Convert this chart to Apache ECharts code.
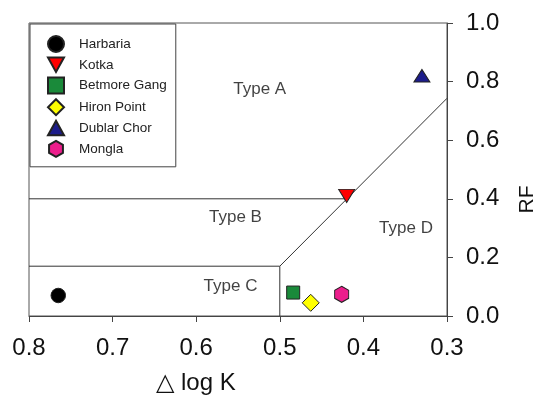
<!DOCTYPE html>
<html><head><meta charset="utf-8">
<script src="https://cdn.jsdelivr.net/npm/echarts@6/dist/echarts.min.js"></script>
<style>html,body{margin:0;padding:0;background:#fff}#c{width:539px;height:395px}</style>
</head><body><div id="c"></div>
<script>
const siteNames = ['Harbaria','Kotka','Betmore Gang','Hiron Point','Dublar Chor','Mongla'];
const dLogK = [0.765, 0.42, 0.484, 0.463, 0.330, 0.426];
const rfValues = [0.07, 0.41, 0.08, 0.045, 0.82, 0.074];
const xTicks = [0.3, 0.4, 0.5, 0.6, 0.7, 0.8];
const yTicks = [0.0, 0.2, 0.4, 0.6, 0.8, 1.0];
// boundary lines [x, y]
const lineAB = [[0.8, 0.4], [0.42, 0.4]];
const lineBC = [[0.8, 0.17], [0.5, 0.17]];
const lineCD = [[0.5, 0.0], [0.5, 0.17]];
const lineDiag = [[0.5, 0.17], [0.3, 0.743]];
const typeLabels = [['Type A', 0.524, 0.775], ['Type B', 0.553, 0.338], ['Type C', 0.559, 0.10], ['Type D', 0.349, 0.30]];

const colors = ['#000000', '#ff0000', '#1a8a3a', '#ffff00', '#1c1c8a', '#ec1e8c'];
const hex = 'path://M50,0 L93.3,25 L93.3,75 L50,100 L6.7,75 L6.7,25 Z';
const downTri = 'path://M0,0 L100,0 L50,90 Z';
const upTri = 'path://M50,0 L100,90 L0,90 Z';
const symbols = ['circle', downTri, 'rect', 'diamond', upTri, hex];
const sizes = [[14.5,14.5], [16,13], [13,13], [17,17], [16,12.5], [14,16]];

const FONT = 'Liberation Sans, Arial, sans-serif';
const series = [];
siteNames.forEach((n, i) => {
  series.push({
    name: n, type: 'scatter', symbol: symbols[i], symbolSize: sizes[i],
    itemStyle: {color: colors[i], borderColor: '#222', borderWidth: 1, opacity: 1},
    data: [[dLogK[i], rfValues[i]]], z: 5
  });
});
[lineAB, lineBC, lineCD, lineDiag].forEach(l => {
  series.push({type: 'line', data: l, symbol: 'none', silent: true,
    lineStyle: {color: '#333', width: 1}, z: 3});
});
series.push({
  type: 'scatter', symbolSize: 0, silent: true,
  data: typeLabels.map(t => ({value: [t[1], t[2]], label: {show: true, formatter: t[0]}})),
  label: {show: true, position: 'inside', color: '#111', fontSize: 17, fontFamily: FONT}
});

const chart = echarts.init(document.getElementById('c'), null, {renderer: 'canvas'});
chart.setOption({
  animation: false,
  backgroundColor: '#fff',
  grid: {left: 29, right: 92, top: 23, bottom: 79, show: true, borderColor: '#555', borderWidth: 1,
         containLabel: false, outerBoundsMode: 'none'},
  legend: {
    orient: 'vertical', left: 30, top: 24,
    padding: [11, 9, 9, 17], itemGap: 3.6, itemWidth: 16, itemHeight: 16,
    borderColor: '#444', borderWidth: 1, backgroundColor: '#fff',
    textStyle: {fontSize: 13.5, lineHeight: 16, color: '#222', fontFamily: FONT, padding: [0, 0, 0, 10]},
    data: siteNames.map((n, i) => ({name: n, icon: symbols[i]})),
    selectedMode: false
  },
  xAxis: {
    type: 'value', min: 0.3, max: 0.8, interval: 0.1, inverse: true, position: 'bottom',
    name: '\u25B3 log K', nameLocation: 'middle', nameGap: 55,
    nameTextStyle: {fontSize: 24, color: '#111', fontFamily: FONT, padding: [0, 84, 0, 0]},
    axisLine: {show: true, lineStyle: {color: '#444', width: 1}},
    axisTick: {show: true, inside: false, length: 6, lineStyle: {color: '#444'}},
    axisLabel: {fontSize: 24, color: '#111', margin: 20, fontFamily: FONT, formatter: v => v.toFixed(1)},
    splitLine: {show: false}
  },
  yAxis: {
    type: 'value', min: 0, max: 1, interval: 0.2, position: 'right',
    name: 'RF', nameLocation: 'middle', nameGap: 70, nameRotate: 90,
    nameTextStyle: {fontSize: 21, color: '#111', fontFamily: FONT, padding: [0, 60, 0, 0]},
    axisLine: {show: true, lineStyle: {color: '#444', width: 1}},
    axisTick: {show: true, inside: false, length: 6, lineStyle: {color: '#444'}},
    axisLabel: {fontSize: 24, color: '#111', margin: 19, fontFamily: FONT, formatter: v => v.toFixed(1)},
    splitLine: {show: false}
  },
  series: series
});
</script></body></html>
